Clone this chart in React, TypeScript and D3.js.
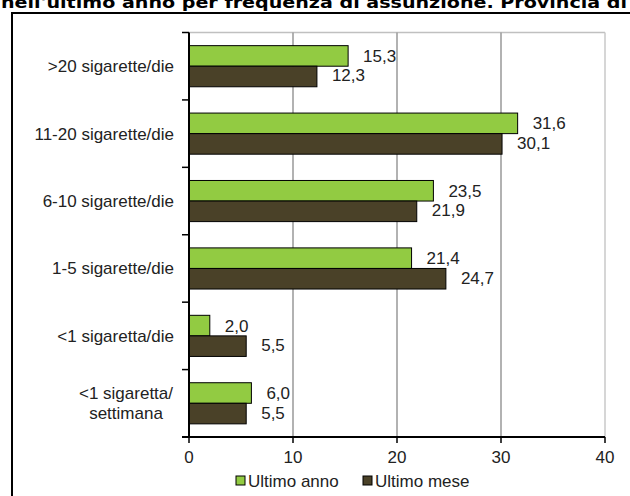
import { useEffect, useRef } from "react"
import * as d3 from "d3"

const categories = [
  ">20 sigarette/die",
  "11-20 sigarette/die",
  "6-10 sigarette/die",
  "1-5 sigarette/die",
  "<1 sigaretta/die",
  "<1 sigaretta/\nsettimana",
]
const ultimoAnno = [15.3, 31.6, 23.5, 21.4, 2.0, 6.0]
const ultimoMese = [12.3, 30.1, 21.9, 24.7, 5.5, 5.5]
const seriesNames = ["Ultimo anno", "Ultimo mese"]
const seriesColors = ["#92cb42", "#4a4128"]
const xTicks = [0, 10, 20, 30, 40]
const title = "nell'ultimo anno per frequenza di assunzione. Provincia di"

const W = 630
const H = 496
const FONT = "'Liberation Sans', Arial, sans-serif"
const FS = 17

export default function App() {
  const svgRef = useRef<SVGSVGElement>(null)

  useEffect(() => {
    if (!svgRef.current) return
    const root = d3.select(svgRef.current)
    root.selectAll("*").remove()

    // title (cut at the top edge) and outer frame
    root
      .append("text")
      .attr("x", 1)
      .attr("y", 7.5)
      .attr("font-family", "'DejaVu Sans', Verdana, sans-serif")
      .attr("font-weight", "bold")
      .attr("font-size", 15)
      .attr("textLength", 626)
      .attr("lengthAdjust", "spacingAndGlyphs")
      .attr("fill", "#000")
      .text(title)

    root
      .append("path")
      .attr("d", `M12,${H} L12,13 L${W + 2},13`)
      .attr("fill", "none")
      .attr("stroke", "#000")
      .attr("stroke-width", 2)

    const left = 189
    const right = 605
    const top = 32.5
    const bottom = 437

    const x = d3.scaleLinear().domain([0, 40]).range([left, right])
    const y = d3
      .scaleBand<number>()
      .domain(d3.range(categories.length))
      .range([top, bottom])
      .paddingInner(0.39)
      .paddingOuter(0.195)

    const g = root.append("g")

    // plot frame + grid
    g.append("line")
      .attr("x1", left)
      .attr("x2", right)
      .attr("y1", top)
      .attr("y2", top)
      .attr("stroke", "#c0c0c0")
      .attr("stroke-width", 1.5)
    g.selectAll("line.grid")
      .data(xTicks.slice(1))
      .enter()
      .append("line")
      .attr("class", "grid")
      .attr("x1", (d) => x(d))
      .attr("x2", (d) => x(d))
      .attr("y1", top)
      .attr("y2", bottom)
      .attr("stroke", (d) => (d === 40 ? "#c8c8c8" : "#999"))
      .attr("stroke-width", 1.5)

    // bars
    const barH = y.bandwidth() / 2
    const series = [ultimoAnno, ultimoMese]
    series.forEach((vals, si) => {
      g.selectAll(`rect.s${si}`)
        .data(vals)
        .enter()
        .append("rect")
        .attr("class", `s${si}`)
        .attr("x", x(0))
        .attr("y", (_, i) => (y(i) ?? 0) + si * barH)
        .attr("width", (d) => x(d) - x(0))
        .attr("height", barH)
        .attr("fill", seriesColors[si])
        .attr("stroke", "#000")
        .attr("stroke-width", 1)

      g.selectAll(`text.v${si}`)
        .data(vals)
        .enter()
        .append("text")
        .attr("class", `v${si}`)
        .attr("x", (d) => x(d) + 15)
        .attr("y", (_, i) => (y(i) ?? 0) + si * barH + barH / 2 + (si === 0 ? 0 : -1))
        .attr("dy", "0.35em")
        .attr("font-family", FONT)
        .attr("font-size", FS)
        .attr("fill", "#222")
        .text((d) => d.toFixed(1).replace(".", ","))
    })

    // y axis
    const yTickPos = d3.range(categories.length + 1).map((i) => top + (i * (bottom - top)) / categories.length)
    g.append("line")
      .attr("x1", left)
      .attr("x2", left)
      .attr("y1", top)
      .attr("y2", bottom)
      .attr("stroke", "#000")
      .attr("stroke-width", 2)
    g.selectAll("line.yt")
      .data(yTickPos)
      .enter()
      .append("line")
      .attr("class", "yt")
      .attr("x1", left - 7)
      .attr("x2", left)
      .attr("y1", (d) => d)
      .attr("y2", (d) => d)
      .attr("stroke", "#000")
      .attr("stroke-width", 1.5)

    categories.forEach((c, i) => {
      const lines = c.split("\n")
      const cy = (y(i) ?? 0) + y.bandwidth() / 2
      const t = g
        .append("text")
        .attr("text-anchor", lines.length > 1 ? "middle" : "end")
        .attr("font-family", FONT)
        .attr("font-size", FS)
        .attr("fill", "#222")
      lines.forEach((l, li) => {
        t.append("tspan")
          .attr("x", lines.length > 1 ? 126 : 174)
          .attr("y", cy + (li - (lines.length - 1) / 2) * 20)
          .attr("dy", "0.35em")
          .text(l)
      })
    })

    // x axis
    g.append("line")
      .attr("x1", left - 7)
      .attr("x2", right)
      .attr("y1", bottom)
      .attr("y2", bottom)
      .attr("stroke", "#000")
      .attr("stroke-width", 2)
    g.selectAll("line.xt")
      .data(xTicks)
      .enter()
      .append("line")
      .attr("class", "xt")
      .attr("x1", (d) => x(d))
      .attr("x2", (d) => x(d))
      .attr("y1", bottom)
      .attr("y2", bottom + 6)
      .attr("stroke", "#000")
      .attr("stroke-width", 1.5)
    g.selectAll("text.xl")
      .data(xTicks)
      .enter()
      .append("text")
      .attr("class", "xl")
      .attr("x", (d) => x(d))
      .attr("y", 457)
      .attr("dy", "0.35em")
      .attr("text-anchor", "middle")
      .attr("font-family", FONT)
      .attr("font-size", FS)
      .attr("fill", "#222")
      .text((d) => d)

    // legend
    const legendX = [236, 363]
    seriesNames.forEach((n, i) => {
      g.append("rect")
        .attr("x", legendX[i])
        .attr("y", 476)
        .attr("width", 9)
        .attr("height", 9)
        .attr("fill", seriesColors[i])
        .attr("stroke", "#000")
        .attr("stroke-width", 1)
      g.append("text")
        .attr("x", legendX[i] + 12)
        .attr("y", 481)
        .attr("dy", "0.35em")
        .attr("font-family", FONT)
        .attr("font-size", FS)
        .attr("fill", "#222")
        .text(n)
    })
  }, [])

  return (
    <div style={{ position: "absolute", left: 0, top: 0 }}>
      <svg ref={svgRef} width={W} height={H} style={{ display: "block", background: "#fff" }} />
    </div>
  )
}
